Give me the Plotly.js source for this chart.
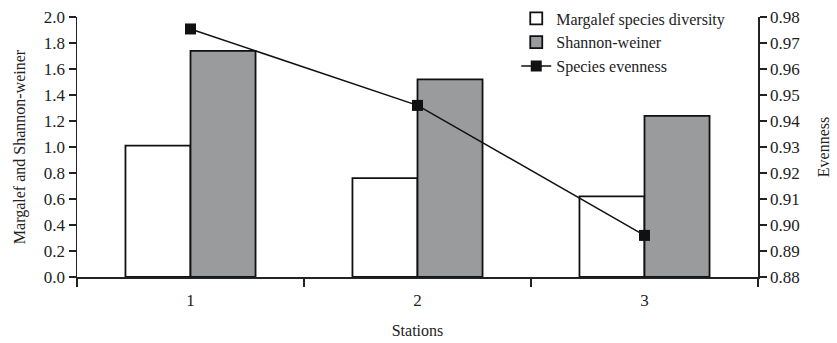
<!DOCTYPE html>
<html>
<head>
<meta charset="utf-8">
<script src="https://cdn.plot.ly/plotly-3.0.1.min.js"></script>
<style>html,body{margin:0;padding:0;background:#fff;}#chart{width:837px;height:343px;}</style>
</head>
<body>
<div id="chart"></div>
<script>
const stations = ["1", "2", "3"];
const margalef = [1.01, 0.76, 0.62];
const shannon = [1.74, 1.52, 1.24];
const evenness = [0.9754, 0.946, 0.896];

const fam = "Times New Roman, Liberation Serif, DejaVu Serif, serif";
const font = {family: fam, size: 17, color: "#222"};

const traces = [
  {type: "bar", name: "Margalef species diversity", x: stations, y: margalef,
   marker: {color: "#ffffff", line: {color: "#111", width: 1.8}}},
  {type: "bar", name: "Shannon-weiner", x: stations, y: shannon,
   marker: {color: "#9a9b9d", line: {color: "#111", width: 1.8}}},
  {type: "scatter", mode: "lines+markers", name: "Species evenness", x: stations, y: evenness,
   yaxis: "y2", line: {color: "#111", width: 1.5},
   marker: {symbol: "square", size: 11, color: "#111"}}
];

const layout = {
  width: 837, height: 343,
  margin: {l: 77, r: 79, t: 17, b: 66, autoexpand: false},
  paper_bgcolor: "#fff", plot_bgcolor: "#fff",
  font: font,
  barmode: "group", bargap: 0.427, bargroupgap: 0,
  showlegend: true,
  legend: {x: 0.645, xanchor: "left", y: 1.06, yanchor: "top", bgcolor: "rgba(0,0,0,0)",
           font: {family: fam, size: 16, color: "#222"}, tracegroupgap: 0, itemwidth: 30},
  xaxis: {type: "category", showline: true, linecolor: "#222", linewidth: 1.5,
          ticks: "outside", tickson: "boundaries", ticklen: 8, tickwidth: 1.5, tickcolor: "#222",
          showgrid: false, zeroline: false, ticklabelstandoff: 7,
          title: {text: "Stations", font: {family: fam, size: 16, color: "#222"}, standoff: 16}},
  yaxis: {range: [0, 2], dtick: 0.2, tickformat: ".1f", showline: true, linecolor: "#222", linewidth: 1.5,
          ticks: "outside", ticklen: 7, tickwidth: 1.5, tickcolor: "#222", showgrid: false, zeroline: false,
          title: {text: "Margalef and Shannon-weiner", font: {family: fam, size: 16, color: "#222"}, standoff: 14}},
  yaxis2: {range: [0.88, 0.98], dtick: 0.01, tickformat: ".2f", overlaying: "y", side: "right",
           showline: true, linecolor: "#222", linewidth: 1.5,
           ticks: "outside", ticklen: 7, tickwidth: 1.5, tickcolor: "#222", showgrid: false, zeroline: false,
           title: {text: "Evenness", font: {family: fam, size: 16, color: "#222"}, standoff: 18}}
};

Plotly.newPlot("chart", traces, layout, {displayModeBar: false, staticPlot: true});
</script>
</body>
</html>
